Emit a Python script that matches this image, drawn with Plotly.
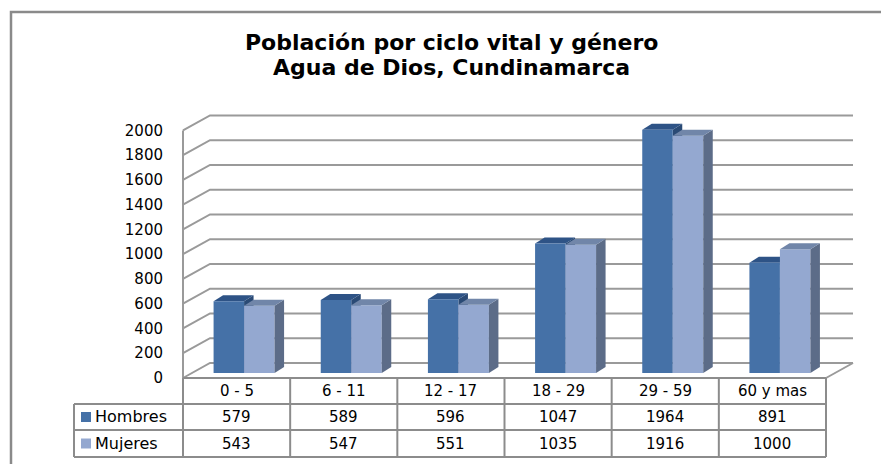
import plotly.graph_objects as go

# ---------------- data ----------------
categories = ["0 - 5", "6 - 11", "12 - 17", "18 - 29", "29 - 59", "60 y mas"]
hombres = [579, 589, 596, 1047, 1964, 891]
mujeres = [543, 547, 551, 1035, 1916, 1000]
series_names = ["Hombres", "Mujeres"]
y_ticks = [0, 200, 400, 600, 800, 1000, 1200, 1400, 1600, 1800, 2000]
title_lines = ["Población por ciclo vital y género", "Agua de Dios, Cundinamarca"]

# ---------------- styling / geometry ----------------
W, H = 889, 464
PAGE_SHIFT = 8  # default page body margin
FONT = "DejaVu Sans"
H_FRONT, H_TOP, H_SIDE = "#4571A7", "#2E5386", "#2A4A75"
M_FRONT, M_TOP, M_SIDE = "#94A8D0", "#7186A9", "#5C6C88"
GRID = "#9A9A9A"
TABLE_LINE = "#8C8C8C"

FRONT_LEFT = 183
N = len(categories)
COL_W = (826 - 183) / N
PLOT_L, PLOT_R = 176, 860
PLOT_T, PLOT_B = 105, 384
BAR_ZERO_PX = 373
K = 0.1238  # px per value unit

ux = 1 / COL_W
uy = 1 / K
x_lo = -0.5 - (FRONT_LEFT - PLOT_L) * ux
x_hi = -0.5 + (PLOT_R - FRONT_LEFT) * ux
y_lo = (BAR_ZERO_PX - PLOT_B) * uy
y_hi = (BAR_ZERO_PX - PLOT_T) * uy

FRONT_DY = -5 * uy          # front plane relative to bar plane
BACK_DY = 10 * uy           # back plane relative to bar plane
BACK_DX = 27 * ux
BAR_SHIFT = 7.5 * ux
BW = 30.5 * ux
BD_X = 9.5 * ux
BD_Y = 6 * uy

plot_w = PLOT_R - PLOT_L
plot_h = PLOT_B - PLOT_T


def px(x):
    return (x - PLOT_L) / plot_w


def py(y):
    return (PLOT_B - y) / plot_h


def poly(points):
    return "M " + " L ".join(f"{a},{b}" for a, b in points) + " Z"


shapes = []
# chart border
shapes.append(dict(type="rect", xref="paper", yref="paper", x0=px(11), y0=py(12),
                   x1=px(W + 30), y1=py(H + 30), line=dict(color="#8A8A8A", width=2.5),
                   fillcolor="rgba(0,0,0,0)", layer="below"))

# gridlines: left wall diagonal + back wall horizontal
x_front = -0.5
x_back = x_front + BACK_DX
x_back_r = x_back + N
for v in y_ticks:
    shapes.append(dict(type="path", xref="x", yref="y", layer="below",
                       path=f"M {x_front},{v + FRONT_DY} L {x_back},{v + BACK_DY} L {x_back_r},{v + BACK_DY}",
                       line=dict(color=GRID, width=2)))
# front-left vertical axis line
shapes.append(dict(type="line", xref="x", yref="y", layer="below",
                   x0=x_front, x1=x_front, y0=y_ticks[0] + FRONT_DY, y1=y_ticks[-1] + FRONT_DY,
                   line=dict(color=GRID, width=2)))
# floor right diagonal
shapes.append(dict(type="line", xref="x", yref="y", layer="below",
                   x0=x_front + N, y0=FRONT_DY, x1=x_back_r, y1=BACK_DY,
                   line=dict(color=GRID, width=2)))

# 3D faces of bars
for i, (h, m) in enumerate(zip(hombres, mujeres)):
    hl = i + BAR_SHIFT - BW
    hr = i + BAR_SHIFT
    mr = hr + BW
    # Hombres top and side (behind Mujeres front)
    shapes.append(dict(type="path", xref="x", yref="y", layer="below", line=dict(width=0),
                       fillcolor=H_SIDE,
                       path=poly([(hr, 0), (hr, h), (hr + BD_X, h + BD_Y), (hr + BD_X, BD_Y)])))
    shapes.append(dict(type="path", xref="x", yref="y", layer="below", line=dict(width=0),
                       fillcolor=H_TOP,
                       path=poly([(hl, h), (hr, h), (hr + BD_X, h + BD_Y), (hl + BD_X, h + BD_Y)])))
    # Mujeres top and side
    shapes.append(dict(type="path", xref="x", yref="y", layer="above", line=dict(width=0),
                       fillcolor=M_SIDE,
                       path=poly([(mr, 0), (mr, m), (mr + BD_X, m + BD_Y), (mr + BD_X, BD_Y)])))
    shapes.append(dict(type="path", xref="x", yref="y", layer="above", line=dict(width=0),
                       fillcolor=M_TOP,
                       path=poly([(hr, m), (mr, m), (mr + BD_X, m + BD_Y), (hr + BD_X, m + BD_Y)])))

# data table lines
TABLE_TOP, ROW1, ROW2, TABLE_BOT = 378, 404, 430, 457
TABLE_LEFT = 74
table_right = FRONT_LEFT + N * COL_W
for yy, x0 in [(TABLE_TOP, FRONT_LEFT), (ROW1, TABLE_LEFT), (ROW2, TABLE_LEFT), (TABLE_BOT, TABLE_LEFT)]:
    shapes.append(dict(type="line", xref="paper", yref="paper", x0=px(x0), x1=px(table_right),
                       y0=py(yy), y1=py(yy), line=dict(color=TABLE_LINE, width=2)))
shapes.append(dict(type="line", xref="paper", yref="paper", x0=px(TABLE_LEFT), x1=px(TABLE_LEFT),
                   y0=py(ROW1), y1=py(TABLE_BOT), line=dict(color=TABLE_LINE, width=2)))
for j in range(N + 1):
    xx = FRONT_LEFT + j * COL_W
    shapes.append(dict(type="line", xref="paper", yref="paper", x0=px(xx), x1=px(xx),
                       y0=py(TABLE_TOP), y1=py(TABLE_BOT), line=dict(color=TABLE_LINE, width=2)))

# legend keys in table
row_centers = [(ROW1 + ROW2) / 2, (ROW2 + TABLE_BOT) / 2]
for yc, col in zip(row_centers, [H_FRONT, M_FRONT]):
    shapes.append(dict(type="rect", xref="paper", yref="paper", x0=px(81), x1=px(91),
                       y0=py(yc + 5), y1=py(yc - 5), fillcolor=col, line=dict(width=0)))

annotations = []
# title
for line, yc in zip(title_lines, [43, 67]):
    annotations.append(dict(text=f"<b>{line}</b>", xref="paper", yref="paper", x=px(451), y=py(yc),
                            showarrow=False, xanchor="center", yanchor="middle",
                            font=dict(family=FONT, size=22, color="#000000")))
# header row
hdr_c = (TABLE_TOP + ROW1) / 2
for i, c in enumerate(categories):
    annotations.append(dict(text=c, xref="x", yref="paper", x=i, y=py(hdr_c), showarrow=False,
                            xanchor="center", yanchor="middle", font=dict(family=FONT, size=15, color="#000")))
# values rows
for name, vals, yc in zip(series_names, [hombres, mujeres], row_centers):
    annotations.append(dict(text=name, xref="paper", yref="paper", x=px(93), y=py(yc), showarrow=False,
                            xanchor="left", yanchor="middle", font=dict(family=FONT, size=16, color="#000")))
    for i, v in enumerate(vals):
        annotations.append(dict(text=str(v), xref="x", yref="paper", x=i, y=py(yc), showarrow=False,
                                xanchor="center", yanchor="middle", font=dict(family=FONT, size=15, color="#000")))

fig = go.Figure()
fig.add_trace(go.Bar(name=series_names[0], x=list(range(N)), y=hombres, width=BW, offset=BAR_SHIFT - BW,
                     marker=dict(color=H_FRONT, line=dict(width=0)), hoverinfo="skip"))
fig.add_trace(go.Bar(name=series_names[1], x=list(range(N)), y=mujeres, width=BW, offset=BAR_SHIFT,
                     marker=dict(color=M_FRONT, line=dict(width=0)), hoverinfo="skip"))

fig.update_layout(
    width=W, height=H,
    margin=dict(l=PLOT_L - PAGE_SHIFT, r=W - (PLOT_R - PAGE_SHIFT),
                t=PLOT_T - PAGE_SHIFT, b=H - (PLOT_B - PAGE_SHIFT), autoexpand=False),
    paper_bgcolor="white", plot_bgcolor="rgba(0,0,0,0)",
    barmode="overlay", showlegend=False,
    shapes=shapes, annotations=annotations,
    xaxis=dict(range=[x_lo, x_hi], showgrid=False, zeroline=False, showline=False,
               showticklabels=False, ticks=""),
    yaxis=dict(range=[y_lo, y_hi], showgrid=False, zeroline=False, showline=False,
               tickvals=[v + FRONT_DY for v in y_ticks], ticktext=[str(v) for v in y_ticks],
               ticks="outside", ticklen=9, tickcolor="rgba(0,0,0,0)",
               tickfont=dict(family=FONT, size=15, color="#000")),
)

fig.write_html("out.html")
